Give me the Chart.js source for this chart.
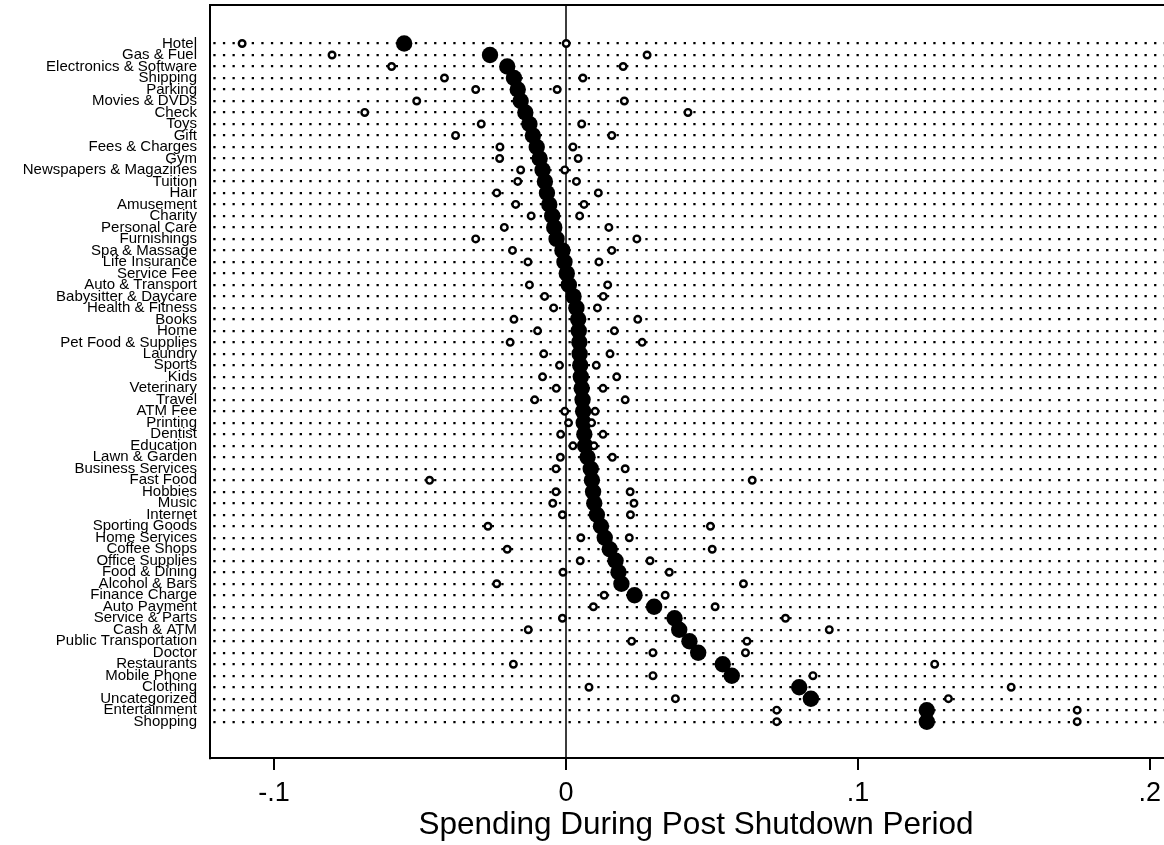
<!DOCTYPE html>
<html>
<head>
<meta charset="utf-8">
<script src="https://cdn.jsdelivr.net/npm/chart.js@4.4.1/dist/chart.umd.min.js"></script>
<style>
html,body{margin:0;padding:0;background:#fff;overflow:hidden;width:1164px;height:845px}
#wrap{width:1182px;height:845px;position:relative;background:#fff}
</style>
</head>
<body>
<div id="wrap"><canvas id="c"></canvas></div>
<script>
const categories = [
  'Hotel','Gas & Fuel','Electronics & Software','Shipping','Parking','Movies & DVDs','Check','Toys','Gift','Fees & Charges',
  'Gym','Newspapers & Magazines','Tuition','Hair','Amusement','Charity','Personal Care','Furnishings','Spa & Massage','Life Insurance',
  'Service Fee','Auto & Transport','Babysitter & Daycare','Health & Fitness','Books','Home','Pet Food & Supplies','Laundry','Sports','Kids',
  'Veterinary','Travel','ATM Fee','Printing','Dentist','Education','Lawn & Garden','Business Services','Fast Food','Hobbies',
  'Music','Internet','Sporting Goods','Home Services','Coffee Shops','Office Supplies','Food & Dining','Alcohol & Bars','Finance Charge','Auto Payment',
  'Service & Parts','Cash & ATM','Public Transportation','Doctor','Restaurants','Mobile Phone','Clothing','Uncategorized','Entertainment','Shopping'
];
const estimates = [
  -0.0554,-0.0260,-0.0201,-0.0178,-0.0165,-0.0155,-0.0139,-0.0125,-0.0113,-0.0100,
  -0.0090,-0.0080,-0.0072,-0.0065,-0.0057,-0.0047,-0.0040,-0.0032,-0.0012,-0.0005,
  0.0003,0.0010,0.0026,0.0036,0.0042,0.0044,0.0046,0.0047,0.0049,0.0051,
  0.0054,0.0057,0.0059,0.0061,0.0063,0.0066,0.0074,0.0085,0.0089,0.0093,
  0.0097,0.0106,0.0120,0.0133,0.0150,0.0170,0.0180,0.0190,0.0235,0.0302,
  0.0372,0.0388,0.0423,0.0453,0.0537,0.0568,0.0799,0.0839,0.1236,0.1236
];
const lowerCI = [
  -0.1109,-0.0801,-0.0597,-0.0416,-0.0309,-0.0511,-0.0689,-0.0290,-0.0378,-0.0226,
  -0.0227,-0.0155,-0.0165,-0.0237,-0.0172,-0.0119,-0.0211,-0.0309,-0.0183,-0.0130,
  null,-0.0125,-0.0073,-0.0042,-0.0178,-0.0097,-0.0191,-0.0076,-0.0022,-0.0080,
  -0.0033,-0.0107,-0.0004,0.0009,-0.0018,0.0024,-0.0019,-0.0034,-0.0467,-0.0034,
  -0.0045,-0.0012,-0.0267,0.0051,-0.0201,0.0049,-0.0010,-0.0237,0.0131,0.0094,
  -0.0012,-0.0129,0.0225,0.0298,-0.0180,0.0298,0.0079,0.0375,0.0722,0.0722
];
const upperCI = [
  0.0001,0.0278,0.0196,0.0058,-0.0030,0.0200,0.0418,0.0054,0.0157,0.0024,
  0.0042,-0.0004,0.0036,0.0111,0.0062,0.0047,0.0147,0.0243,0.0157,0.0113,
  null,0.0143,0.0128,0.0108,0.0246,0.0166,0.0261,0.0151,0.0104,0.0174,
  0.0127,0.0203,0.0100,0.0088,0.0127,0.0096,0.0159,0.0203,0.0638,0.0220,
  0.0233,0.0221,0.0495,0.0217,0.0501,0.0288,0.0354,0.0608,0.0340,0.0511,
  0.0752,0.0902,0.0620,0.0615,0.1263,0.0846,0.1525,0.1310,0.1751,0.1751
];
const xTickValues = [-0.1, 0, 0.1, 0.2];
const xTickLabels = ['-.1', '0', '.1', '.2'];
const xAxisTitle = 'Spending During Post Shutdown Period';

const toPoints = arr => arr.map((v, i) => (v === null ? null : { x: v, y: i })).filter(p => p !== null);

const FONT = "'Liberation Sans', Arial, Helvetica, sans-serif";

const frameTop = {
  id: 'frameTop',
  afterDraw(chart) {
    const { ctx, chartArea: a } = chart;
    ctx.save();
    ctx.strokeStyle = '#000';
    ctx.lineWidth = 2;
    ctx.beginPath();
    ctx.moveTo(a.left - 1, a.top);
    ctx.lineTo(a.right, a.top);
    ctx.stroke();
    ctx.restore();
  }
};

new Chart(document.getElementById('c'), {
  type: 'scatter',
  data: {
    datasets: [
      {
        label: 'Estimate',
        data: toPoints(estimates),
        pointRadius: 8.2,
        pointHoverRadius: 8.2,
        backgroundColor: '#000',
        borderColor: '#000',
        borderWidth: 0,
        order: 2
      },
      {
        label: 'Lower',
        data: toPoints(lowerCI),
        pointRadius: 3.3,
        pointHoverRadius: 3.3,
        backgroundColor: '#fff',
        borderColor: '#000',
        borderWidth: 2.4,
        order: 1
      },
      {
        label: 'Upper',
        data: toPoints(upperCI),
        pointRadius: 3.3,
        pointHoverRadius: 3.3,
        backgroundColor: '#fff',
        borderColor: '#000',
        borderWidth: 2.4,
        order: 1
      }
    ]
  },
  options: {
    responsive: true,
    maintainAspectRatio: false,
    animation: false,
    events: [],
    layout: { autoPadding: false, padding: { top: 5, right: 0, bottom: 0, left: 0 } },
    plugins: { legend: { display: false }, tooltip: { enabled: false } },
    scales: {
      x: {
        type: 'linear',
        position: 'bottom',
        min: -0.1219,
        max: 0.2110,
        afterBuildTicks: s => { s.ticks = xTickValues.map(v => ({ value: v })); },
        afterFit: s => { s.height = 87; s.paddingLeft = 0; s.paddingRight = 0; },
        ticks: {
          autoSkip: false,
          maxRotation: 0,
          padding: 7,
          color: '#000',
          font: { family: FONT, size: 27 },
          callback: v => { const i = xTickValues.indexOf(v); return i >= 0 ? xTickLabels[i] : ''; }
        },
        grid: {
          drawOnChartArea: true,
          drawTicks: true,
          tickLength: 12,
          tickWidth: 2,
          tickColor: '#000',
          lineWidth: 2,
          color: c => (c.tick && c.tick.value === 0 ? '#3c3c3c' : 'rgba(0,0,0,0)')
        },
        border: { display: true, color: '#000', width: 2 },
        title: {
          display: true,
          text: xAxisTitle,
          color: '#000',
          font: { family: FONT, size: 31.5 },
          padding: { top: 0, bottom: 1 }
        }
      },
      y: {
        type: 'linear',
        reverse: true,
        min: -3.35,
        max: 62.16,
        afterBuildTicks: s => { s.ticks = categories.map((_, i) => ({ value: i })); },
        afterFit: s => { s.width = 210; s.paddingTop = 0; s.paddingBottom = 0; },
        ticks: {
          autoSkip: false,
          padding: 13,
          color: '#000',
          font: { family: FONT, size: 15 },
          callback: v => categories[v]
        },
        grid: {
          drawOnChartArea: true,
          drawTicks: false,
          color: '#000',
          lineWidth: 2.3
        },
        border: { display: true, color: '#000', width: 2, dash: [2.3, 7.3], dashOffset: 7.3 }
      }
    }
  },
  plugins: [frameTop]
});
</script>
</body>
</html>
